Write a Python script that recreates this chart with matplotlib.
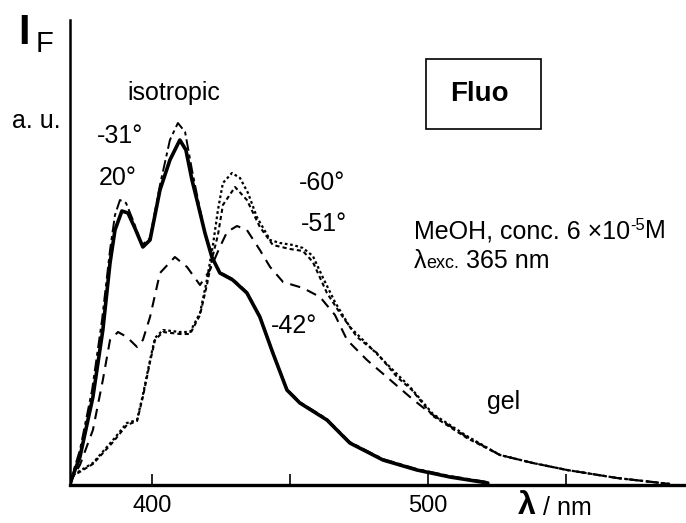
import matplotlib
matplotlib.use("Agg")
import matplotlib.pyplot as plt
from matplotlib.patches import Rectangle

plt.rcParams['font.family'] = ['Liberation Sans', 'DejaVu Sans']

# ---- data (wavelength nm, intensity a.u.) ----
wl_20 = [370.3, 371.0, 373.9, 378.6, 382.2, 384.8, 386.6, 389.1, 391.3, 393.8, 396.7, 399.3,
         402.9, 406.5, 410.1, 412.3, 414.5, 416.3, 419.2, 421.7, 424.6, 429.3, 434.4, 439.1,
         443.8, 448.9, 453.6, 463.4, 471.7, 483.7, 496.0, 508.0, 521.7]
i_20 = [0, 7, 28, 88, 155, 222, 255, 274, 272, 257, 238, 245,
        295, 325, 345, 335, 305, 285, 252, 228, 212, 205, 192, 168,
        132, 95, 82, 65, 42, 25, 15, 8, 2]

wl_m31 = [370.3, 371.0, 373.9, 378.3, 381.9, 384.8, 386.6, 388.4, 390.6, 393.1, 396.4, 399.3,
          402.9, 406.5, 409.4, 412.0, 414.5, 416.7, 419.2, 421.7, 424.6, 429.3, 434.4, 439.1,
          443.8, 448.9, 453.6, 463.4, 471.7, 483.7, 496.0, 508.0, 521.7]
i_m31 = [0, 9, 35, 95, 165, 235, 270, 285, 282, 265, 240, 247,
         300, 345, 362, 353, 315, 285, 252, 229, 213, 206, 193, 169,
         133, 96, 83, 66, 43, 26, 16, 9, 3]

wl_m42 = [370.3, 371.4, 373.9, 378.6, 382.2, 384.8, 387.7, 390.9, 394.6, 396.7, 399.3, 402.9,
          408.3, 412.7, 417.4, 421.0, 424.6, 427.2, 430.8, 434.4, 439.1, 442.8, 447.5, 454.7,
          460.9, 466.3, 470.7, 477.9, 485.1, 493.5, 500.7, 514.1, 526.1, 538.0, 550.4, 568.5, 587.7]
i_m42 = [0, 8, 20, 55, 105, 145, 153, 148, 138, 145, 168, 212,
         228, 218, 200, 215, 238, 253, 259, 255, 235, 218, 203, 197,
         188, 170, 145, 125, 108, 88, 72, 48, 30, 22, 15, 7, 1]

wl_m51 = [370.3, 371.4, 378.6, 385.9, 390.9, 394.6, 396.7, 399.3, 401.1, 404.0, 410.1, 413.8,
          417.4, 419.9, 422.1, 423.9, 425.7, 430.1, 434.4, 439.1, 443.8, 450.0, 454.7, 458.3,
          463.4, 467.4, 470.7, 474.3, 481.5, 488.8, 494.2, 501.8, 514.1, 526.1, 538.0, 550.4,
          568.5, 587.7]
i_m51 = [0, 9, 21, 43, 60, 64, 88, 123, 145, 153, 151, 151,
         170, 200, 230, 250, 280, 298, 285, 258, 240, 236, 234, 223,
         192, 175, 162, 148, 132, 108, 95, 69, 47, 30, 22, 15, 7, 1]

wl_m60 = [370.3, 371.4, 378.6, 385.9, 390.9, 394.6, 396.7, 399.3, 401.1, 404.0, 410.1, 413.8,
          417.4, 419.9, 422.1, 423.9, 425.7, 429.0, 431.9, 434.8, 438.0, 442.8, 446.4, 451.1,
          454.7, 458.3, 462.0, 466.3, 471.7, 479.0, 487.3, 493.5, 501.8, 514.1, 526.1, 538.0,
          550.4, 568.5, 587.7]
i_m60 = [0, 10, 22, 45, 62, 65, 90, 125, 147, 155, 153, 153,
         172, 205, 240, 275, 302, 312, 307, 292, 268, 245, 242, 240,
         237, 229, 207, 183, 158, 138, 115, 98, 71, 49, 30, 22, 15, 7, 1]

x_major = [400, 500]
x_minor = [450, 550]

W, H = 686, 523
fig = plt.figure(figsize=(W / 100, H / 100), dpi=100)
ax = fig.add_axes([70 / W, 1 - 485 / H, (W - 70) / W, 465 / H])

ax.plot(wl_m60, i_m60, color='black', lw=1.6, linestyle=(0, (1.2, 1.2)))
ax.plot(wl_m51, i_m51, color='black', lw=1.5, linestyle=(0, (2, 1.5)))
ax.plot(wl_m42, i_m42, color='black', lw=1.5, linestyle=(0, (5, 3.5)))
ax.plot(wl_m31, i_m31, color='black', lw=1.4, linestyle=(0, (6, 2, 2, 2)))
ax.plot(wl_20, i_20, color='black', lw=2.6, solid_capstyle='round')

ax.set_xlim(370.3, 593.5)
ax.set_ylim(0, 465)
for s in ['top', 'right']:
    ax.spines[s].set_visible(False)
ax.spines['bottom'].set_linewidth(2.4)
ax.spines['left'].set_linewidth(1.8)
ax.set_yticks([])
ax.set_xticks(x_major)
ax.set_xticks(x_minor, minor=True)
ax.tick_params(axis='x', which='both', direction='in', length=8, width=1.2, pad=7,
               labelsize=17)
ax.tick_params(axis='x', which='minor', labelbottom=False)

def fx(x):
    return x / W

def fy(y):
    return 1 - y / H

renderer = fig.canvas.get_renderer()

def seq_text(x, y, parts):
    """parts: list of (string, fontsize, dy_px)."""
    cur = x
    for s, fs, dy in parts:
        t = fig.text(fx(cur), fy(y - dy), s, fontsize=fs, va='baseline', ha='left')
        bb = t.get_window_extent(renderer=renderer)
        cur += bb.width

# axis titles
fig.text(fx(18), fy(44), 'I', fontsize=30, fontweight='bold', va='baseline', ha='left')
fig.text(fx(36), fy(52), 'F', fontsize=21, va='baseline', ha='left')
fig.text(fx(12), fy(128), 'a. u.', fontsize=18, va='baseline', ha='left')
fig.text(fx(518), fy(514), 'λ', fontsize=23, fontweight='bold', va='baseline', ha='left')
fig.text(fx(543), fy(515), '/ nm', fontsize=18, va='baseline', ha='left')

# annotations
fig.text(fx(127), fy(100), 'isotropic', fontsize=18, va='baseline', ha='left')
fig.text(fx(97), fy(143), '-31°', fontsize=18, va='baseline', ha='left')
fig.text(fx(99), fy(185), '20°', fontsize=18, va='baseline', ha='left')
fig.text(fx(299), fy(190), '-60°', fontsize=18, va='baseline', ha='left')
fig.text(fx(301), fy(231), '-51°', fontsize=18, va='baseline', ha='left')
fig.text(fx(271), fy(333), '-42°', fontsize=18, va='baseline', ha='left')
seq_text(414, 238, [('MeOH, conc. 6 ×10', 18, 0), ('-5', 12, 8), ('M', 18, 0)])
seq_text(414, 268, [('λ', 18, 0), ('exc.', 13, 0), (' 365 nm', 18, 0)])
fig.text(fx(487), fy(409), 'gel', fontsize=18, va='baseline', ha='left')

# Fluo box
fig.patches.append(Rectangle((fx(426), fy(129)), (541 - 426) / W, (129 - 59) / H,
                             transform=fig.transFigure, fill=False, lw=1.2, ec='black'))
fig.text(fx(479), fy(94), 'Fluo', fontsize=20, fontweight='bold', va='center', ha='center')

fig.savefig('out.png', dpi=100)
